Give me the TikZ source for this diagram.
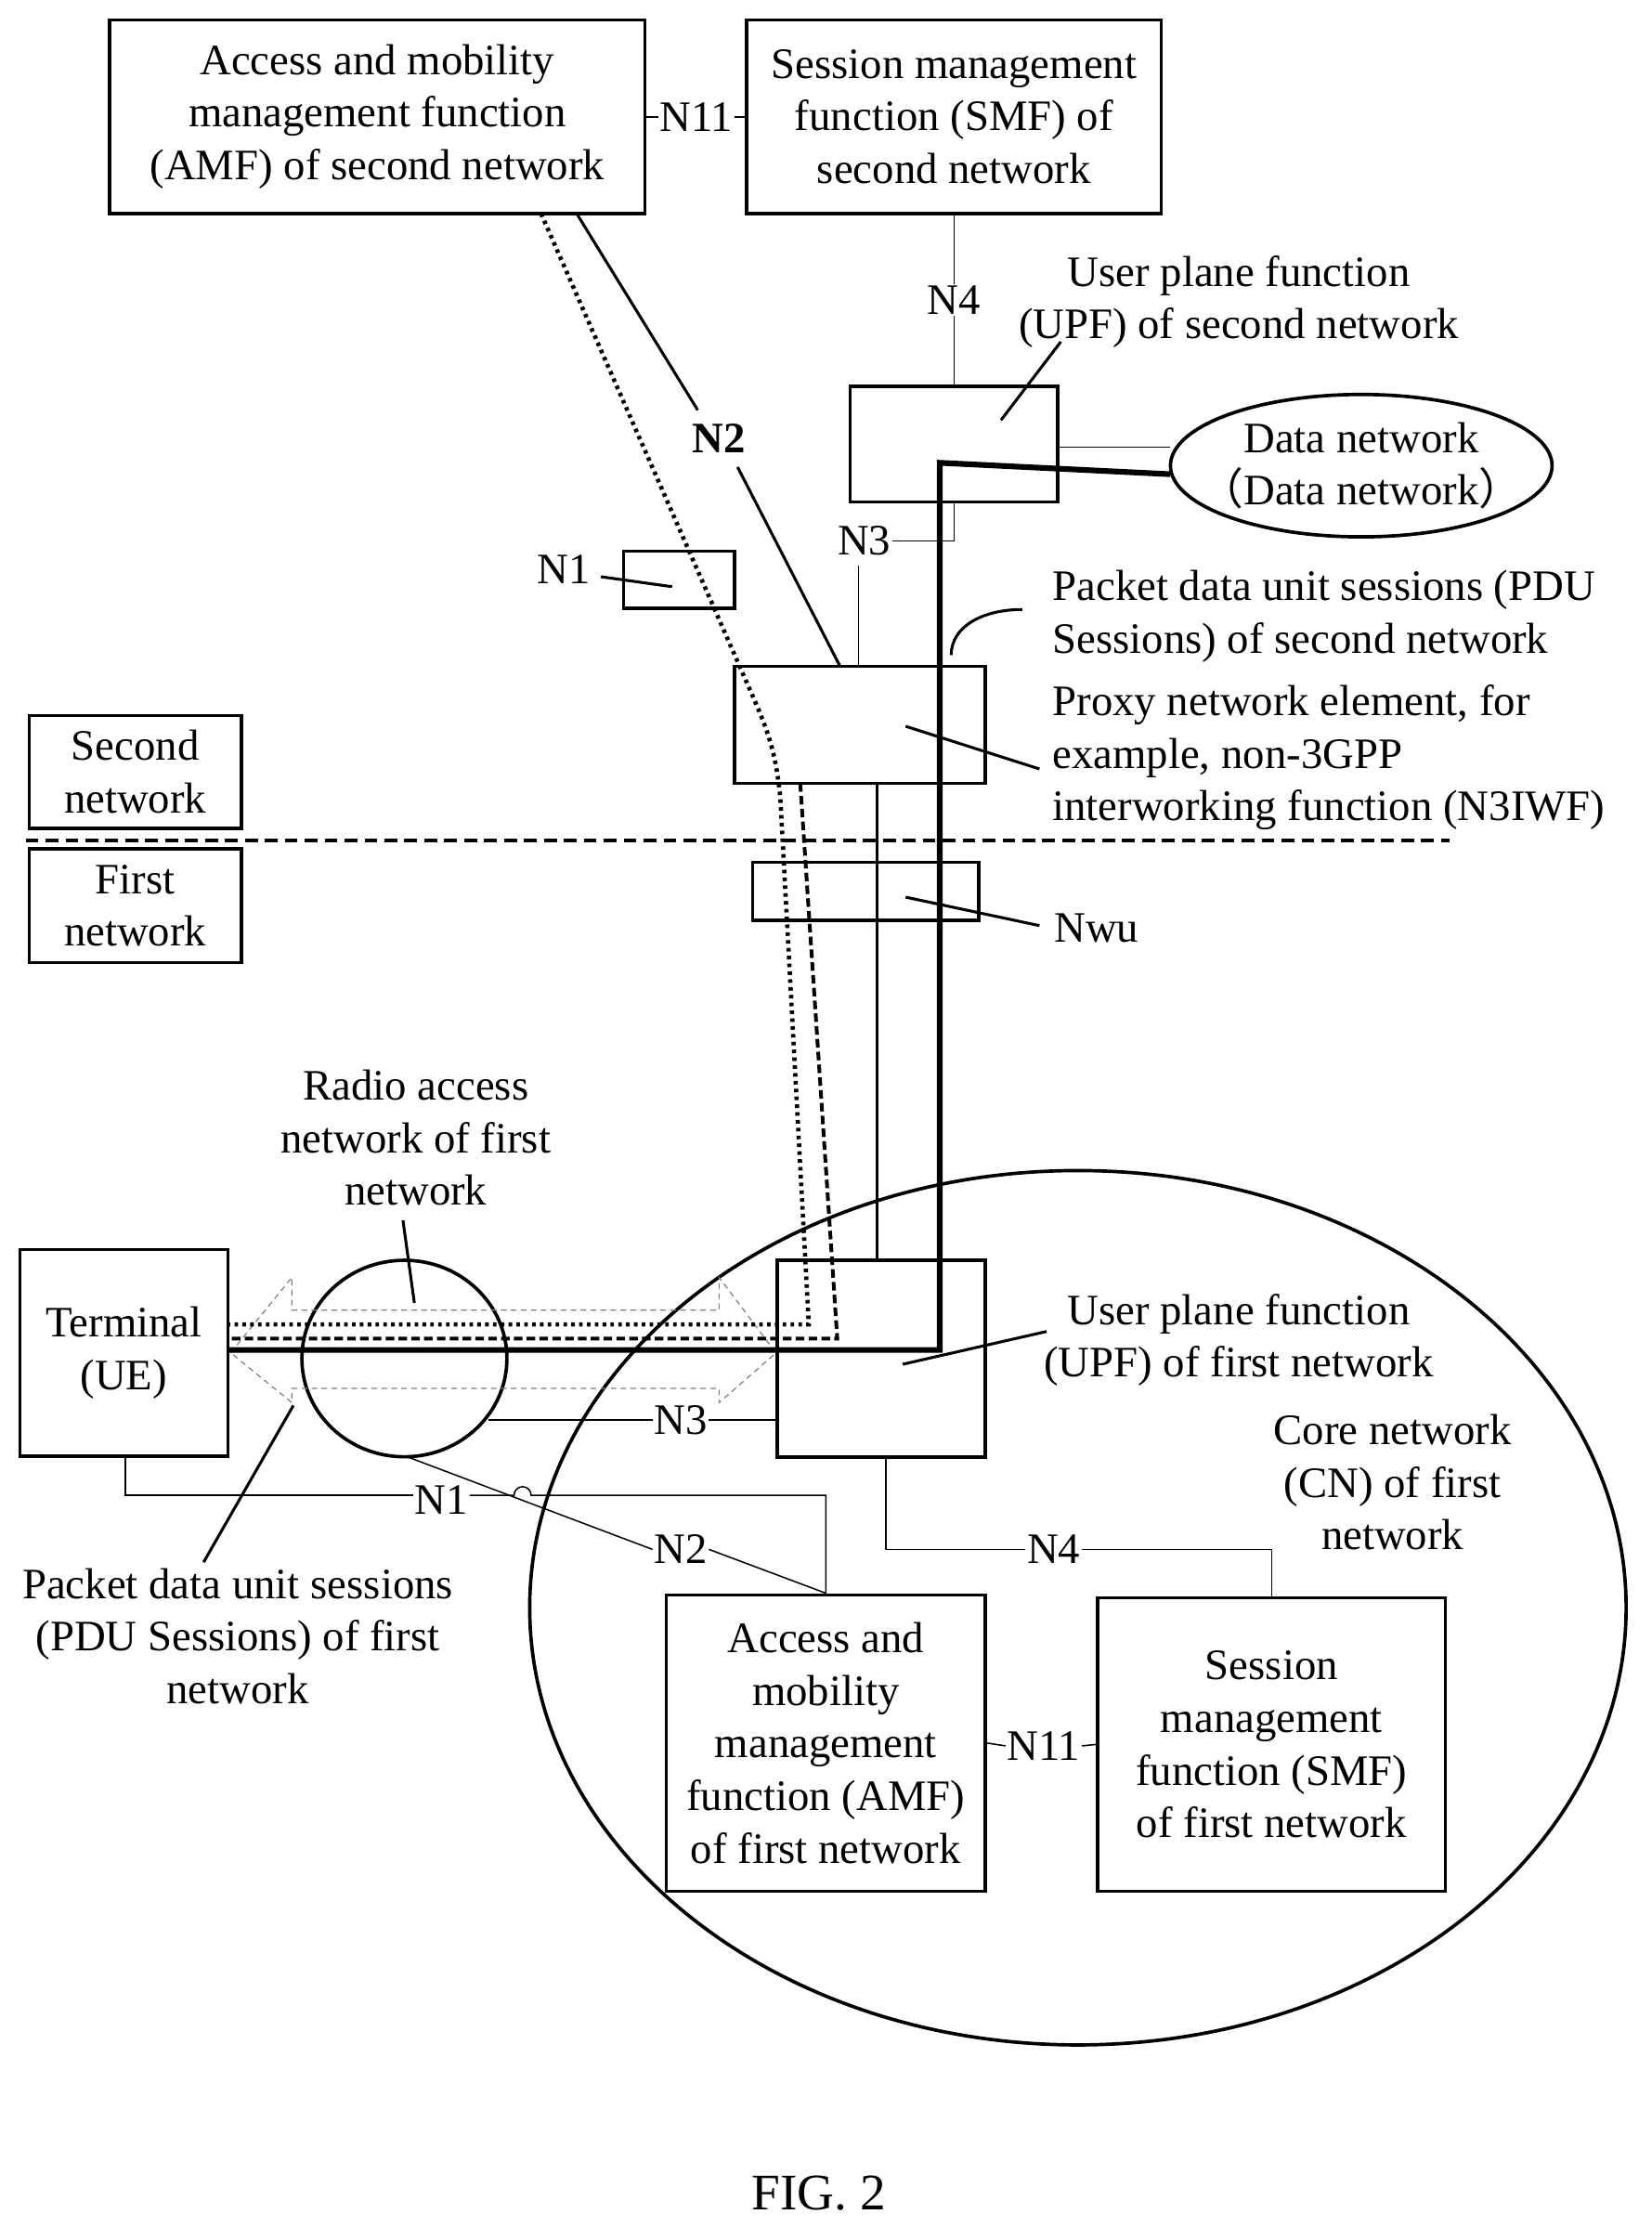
\documentclass[tikz,border=0pt]{standalone}
\usepackage{fontspec}
\setmainfont{Liberation Serif}
\newfontfamily\cjk{Noto Sans CJK SC}
\usetikzlibrary{shapes.geometric}
\begin{document}
\begin{tikzpicture}[x=1pt,y=-1pt,
  box/.style={draw,line width=2.4pt},
  thin/.style={line width=1pt},
  lab/.style={font=\fontsize{30.5}{37}\selectfont,align=center,inner sep=1pt},
  wl/.style={lab,fill=white},
  ptr/.style={line width=2pt}]
\useasboundingbox (0,0) rectangle (1160,1573);
\tikzset{every node/.style={font=\fontsize{30.5}{37}\selectfont}}
% top boxes
\node[box,minimum width=376pt,minimum height=136pt,lab] (amf2) at (265,82) {Access and mobility\\management function\\(AMF) of second network};
\node[box,minimum width=291pt,minimum height=136pt,lab] (smf2) at (670,82) {Session management\\function (SMF) of\\second network};
\node[lab] (n11a) at (489,82) {N11};
\draw[thin] (amf2.east) -- (n11a.west) (n11a.east) -- (smf2.west);
% UPF2
\node[box,minimum width=146pt,minimum height=81pt] (upf2) at (670,312) {};
\node[lab] (upf2l) at (870,212) {User plane function\\(UPF) of second network};
\draw[thin] (smf2.south) -- node[wl]{N4} (upf2.north);
\draw[ptr] (703,295) -- (745,240);
\draw[line width=2.4pt] (956,327) ellipse (134pt and 50pt);
\node[lab] (dn) at (956,327) {Data network\\{\cjk （}Data network{\cjk ）}};
\coordinate (dnw) at (822,327);
\draw[thin] (upf2.east|-0,314) -- (dnw|-0,314) ;
% N3IWF
\node[box,minimum width=176pt,minimum height=82pt] (iwf) at (604,509) {};
\node[lab,align=left,anchor=west] (iwfl) at (738,532) {Proxy network element, for\\example, non-3GPP\\interworking function (N3IWF)};
\draw[ptr] (636,510) -- (730,540);
\node[lab,align=left,anchor=west] (pdu2) at (738,433) {Packet data unit sessions (PDU\\Sessions) of second network};
\draw[ptr] (668,460) .. controls (668,440) and (690,428) .. (718,428);
\node[lab] (n3b) at (607,380) {N3};
\draw[thin] (upf2.south) -- (670,380) -- (n3b.east);
\draw[thin] (603,397) -- (603,468);
% N1 box
\node[box,minimum width=78pt,minimum height=40pt] (n1b) at (477,407) {};
\node[lab] (n1l) at (396,400) {N1};
\draw[ptr] (422,405) -- (472,412);
% N2 line
\node[lab] (n2l) at (505,308) {\textbf{N2}};
\draw[ptr] (405,150) -- (490,288);
\draw[ptr] (518,328) -- (590,468);
% Nwu
\node[box,minimum width=159pt,minimum height=41pt] (nwu) at (608,626) {};
\node[lab] (nwul) at (770,652) {Nwu};
\draw[ptr] (636,630) -- (730,650);
% network separation
\draw[line width=2.4pt,dash pattern=on 9pt off 5pt] (18,590) -- (1018,590);
\node[box,minimum width=149pt,minimum height=79pt,lab] (sn) at (95,542) {Second\\network};
\node[box,minimum width=149pt,minimum height=80pt,lab] (fn) at (95,636) {First\\network};
% CN ellipse
\draw[line width=2.4pt] (757,1129) ellipse (385pt and 307pt);
\node[lab] (cnl) at (978,1041) {Core network\\(CN) of first\\network};
% terminal, RAN, UPF1
\node[box,minimum width=146pt,minimum height=145pt,lab] (ue) at (87,950) {Terminal\\(UE)};
\node[draw,line width=2.4pt,ellipse,minimum width=144pt,minimum height=138pt] (ran) at (284,954) {};
\node[lab] (ranl) at (292,799) {Radio access\\network of first\\network};
\draw[ptr] (283,857) -- (291,915);
\node[box,minimum width=146pt,minimum height=138pt] (upf1) at (619,954) {};
\node[lab] (upf1l) at (870,941) {User plane function\\(UPF) of first network};
\draw[ptr] (634,958) -- (735,935);
% hollow double arrow
\draw[line width=0.8pt,dash pattern=on 4pt off 3pt,gray] (162,950) -- (205,897) -- (205,920) -- (505,920) -- (505,897) -- (545,950) -- (505,985) -- (505,975) -- (205,975) -- (205,985) -- cycle;
% sessions
\draw[line width=4pt] (ue.east|-0,948) -- (660,948) -- (660,325) -- (dnw|-0,333);
\draw[line width=3pt,dash pattern=on 2.5pt off 3pt] (380,150) -- (530,492) .. controls (540,515) and (545,530) .. (548,560) -- (568,930) -- (ue.east|-0,930);
\draw[line width=2.6pt,dash pattern=on 6pt off 3pt] (562,550) -- (588,940) -- (ue.east|-0,940);
\draw[line width=2.2pt] (616,550) -- (616,885);
\node[lab] (pdu1) at (167,1149) {Packet data unit sessions\\(PDU Sessions) of first\\network};
\draw[ptr] (143,1097) -- (206,987);
% first network connectors
\node[box,minimum width=224pt,minimum height=208pt,lab] (amf1) at (580,1224) {Access and\\mobility\\management\\function (AMF)\\of first network};
\node[box,minimum width=244pt,minimum height=206pt,lab] (smf1) at (893,1225) {Session\\management\\function (SMF)\\of first network};
\node[lab] (n11b) at (733,1226) {N11};
\draw[thin] (amf1.east) -- (n11b.west) (n11b.east) -- (smf1.west);
\node[lab] (n3a) at (478,997) {N3};
\draw[thin] (343,997) -- (n3a.west) (n3a.east) -- (upf1.west|-0,997);
\node[lab] (n1a) at (310,1053) {N1};
\draw[thin] (88,1023) -- (88,1050) -- (n1a.west|-0,1050);
\draw[thin] (n1a.east|-0,1050) -- (361,1050) arc (180:0:6pt) -- (580,1050) -- (amf1.north);
\node[lab] (n2a) at (478,1088) {N2};
\draw[thin] (286,1023) -- (n2a.west);
\draw[thin] (n2a.east) -- (amf1.north);
\node[lab] (n4a) at (740,1088) {N4};
\draw[thin] (622,1023) -- (622,1088) -- (n4a.west);
\draw[thin] (n4a.east) -- (893,1088) -- (smf1.north);
\node[font=\fontsize{36}{40}\selectfont] (fig) at (575,1540) {FIG. 2};
\end{tikzpicture}
\end{document}
